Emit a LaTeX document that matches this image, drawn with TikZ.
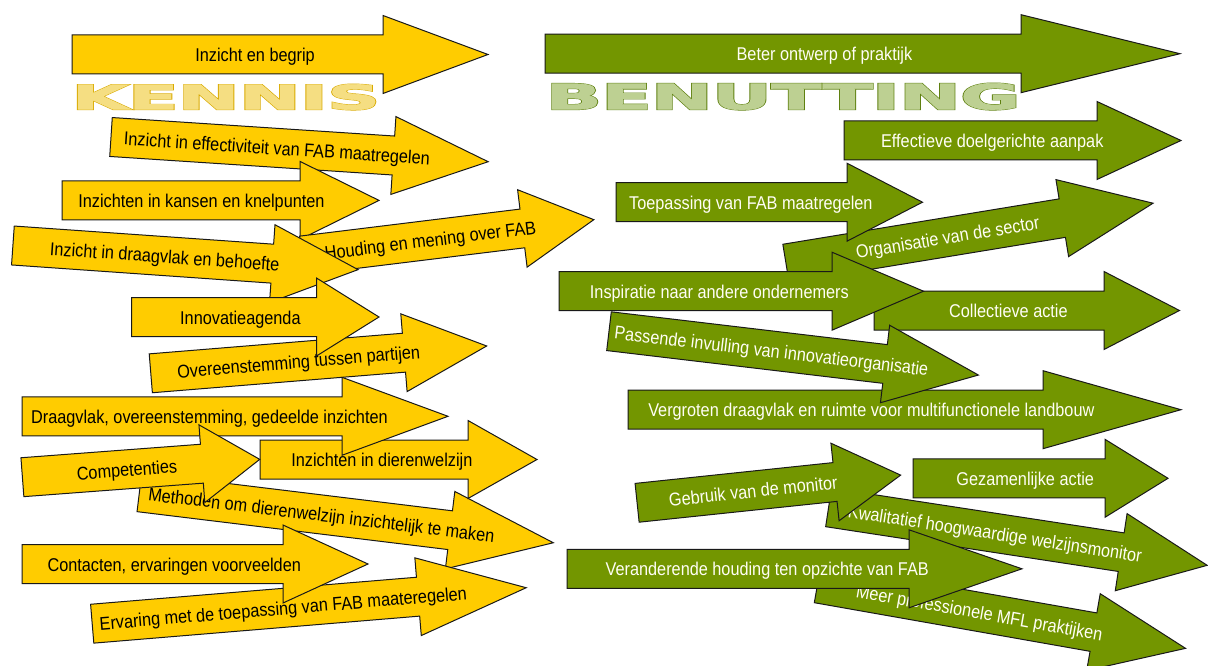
\documentclass[tikz,border=0pt]{standalone}
\usepackage{fontspec}
\setmainfont{Liberation Sans}[FakeStretch=0.88]
\newfontfamily\wordrim{DejaVu Sans Bold}[FakeBold=4.5]
\newfontfamily\wordcore{DejaVu Sans Bold}[FakeBold=2]

\definecolor{yel}{HTML}{FFCC00}
\definecolor{grn}{HTML}{739600}
\definecolor{kennisrim}{HTML}{D9AA00}
\definecolor{kennisfill}{HTML}{F5DE82}
\definecolor{benutrim}{HTML}{5F8010}
\definecolor{benutfill}{HTML}{BDD092}

\tikzset{
  yelarrow/.style={fill=yel, draw=black!90, line width=1pt, line join=miter},
  grnarrow/.style={fill=grn, draw=black!90, line width=1pt, line join=miter},
  labelbase/.style={inner sep=0pt, anchor=base, font=\fontsize{18.5}{21}\selectfont},
  yelarrow text/.style={labelbase, text=black},
  grnarrow text/.style={labelbase, text=white!96!yellow},
  bigword/.style={anchor=south west, inner sep=0pt},
}

% block arrow: style, name, tail centre, angle, shaft length, total length, label
\newcommand{\blockarrow}[7]{%
  \begin{scope}[shift={#3}, rotate=#4]
    \draw[#1] (0,-19.5) -- (#5,-19.5) -- (#5,-39) -- (#6,0) -- (#5,39)
      -- (#5,19.5) -- (0,19.5) -- cycle;
    \node[#1 text, rotate=#4] (#2) at ({0.44*#6},7) {#7};
  \end{scope}}

\begin{document}
\begin{tikzpicture}[x=1pt, y=-1pt]
\useasboundingbox (0,0) rectangle (1208,666);
\fill[white] (0,0) rectangle (1208,666);

% headings
\node[bigword, text=kennisrim] (kennisrim) at (71.7,110)
  {\resizebox{308pt}{25pt}{\wordrim KENNIS}};
\node[bigword, text=kennisfill] (kennis) at (71.7,110)
  {\resizebox{308pt}{25pt}{\wordcore KENNIS}};
\node[bigword, text=benutrim] (benutrim) at (546,110)
  {\resizebox{474pt}{26pt}{\wordrim BENUTTING}};
\node[bigword, text=benutfill] (benutting) at (546,110)
  {\resizebox{474pt}{26pt}{\wordcore BENUTTING}};

% knowledge arrows
\blockarrow{yelarrow}{kA}{(72,54.5)}{0}{311}{416}{Inzicht en begrip}
\blockarrow{yelarrow}{kB}{(111,137)}{-3.75}{283}{378}{Inzicht in effectiviteit van FAB maatregelen}
\blockarrow{yelarrow}{kC}{(62,200.4)}{0}{238}{317}{Inzichten in kansen en knelpunten}
\blockarrow{yelarrow}{kE}{(302,255.5)}{7}{222}{294}{Houding en mening over FAB}
\blockarrow{yelarrow}{kD}{(12.9,245.5)}{-4}{260}{346}{Inzicht in draagvlak en behoefte}
\blockarrow{yelarrow}{kG}{(150.8,373.3)}{4.65}{254}{337}{Overeenstemming tussen partijen}
\blockarrow{yelarrow}{kF}{(131.5,317)}{0}{185}{247.5}{Innovatieagenda}
\blockarrow{yelarrow}{kK}{(139.4,492.3)}{-6.95}{313}{417}{Methoden om dierenwelzijn inzichtelijk te maken}
\blockarrow{yelarrow}{kI}{(260,459.5)}{0}{208}{277}{Inzichten in dierenwelzijn}
\blockarrow{yelarrow}{kH}{(22,416.3)}{0}{320}{426}{Draagvlak, overeenstemming, gedeelde inzichten}
\blockarrow{yelarrow}{kJ}{(22.4,477.2)}{4.3}{180}{238}{Competenties}
\blockarrow{yelarrow}{kM}{(92.2,623.7)}{4.74}{327}{435.5}{Ervaring met de toepassing van FAB maateregelen}
\blockarrow{yelarrow}{kL}{(22,564)}{0}{261}{346}{Contacten, ervaringen voorveelden}

% use arrows
\blockarrow{grnarrow}{bA}{(545,53.7)}{0}{476}{635}{Beter ontwerp of praktijk}
\blockarrow{grnarrow}{bB}{(844,140.5)}{0}{253}{337}{Effectieve doelgerichte aanpak}
\blockarrow{grnarrow}{bD}{(786,263.5)}{9.33}{280}{372}{Organisatie van de sector}
\blockarrow{grnarrow}{bC}{(616,202.2)}{0}{231}{306.5}{Toepassing van FAB maatregelen}
\blockarrow{grnarrow}{bF}{(874,310.5)}{0}{230}{305.5}{Collectieve actie}
\blockarrow{grnarrow}{bH}{(628,409.7)}{0}{415}{553}{Vergroten draagvlak en ruimte voor multifunctionele landbouw}
\blockarrow{grnarrow}{bG}{(609,331.2)}{-6.77}{278}{372}{Passende invulling van innovatieorganisatie}
\blockarrow{grnarrow}{bE}{(559,291.2)}{0}{273}{364.5}{Inspiratie naar andere ondernemers}
\blockarrow{grnarrow}{bM}{(817.7,583.5)}{-10}{280}{373.5}{Meer professionele MFL praktijken}
\blockarrow{grnarrow}{bK}{(828.6,507.4)}{-8.7}{296}{383}{Kwalitatief hoogwaardige welzijnsmonitor}
\blockarrow{grnarrow}{bI}{(637.1,502.8)}{6}{199}{265}{Gebruik van de monitor}
\blockarrow{grnarrow}{bJ}{(913,478.3)}{0}{192}{255}{Gezamenlijke actie}
\blockarrow{grnarrow}{bL}{(567,568.8)}{0}{342}{455}{Veranderende houding ten opzichte van FAB}
\end{tikzpicture}
\end{document}
